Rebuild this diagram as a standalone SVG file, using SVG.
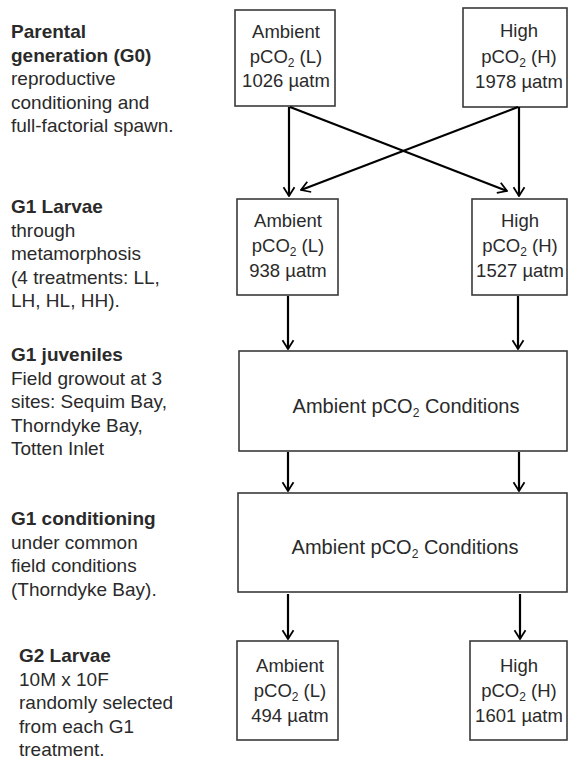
<svg xmlns="http://www.w3.org/2000/svg" width="568" height="762" viewBox="0 0 568 762">
<defs>
<style>
text{font-family:"Liberation Sans",Arial,sans-serif;font-size:18.5px;fill:#2a2a2a}
.l{font-size:19px}
.b{font-weight:bold}
.c{text-anchor:middle}
.big{font-size:20px}
.box{fill:#fff;stroke:#3a3a3a;stroke-width:1.6}
.con line{stroke:#000;stroke-width:2.2;marker-end:url(#ah)}
.s{font-size:12px}
</style>
<marker id="ah" viewBox="0 0 10 12" refX="9" refY="6" markerWidth="5" markerHeight="6" markerUnits="strokeWidth" orient="auto">
<path d="M1,1 L9,6 L1,11" fill="none" stroke="#000" stroke-width="1.6"/>
</marker>
</defs>
<rect width="568" height="762" fill="#fff"/>

<g id="labels" class="lab">
<text x="11" y="38" class="l b">Parental</text>
<text x="11" y="61.5" class="l b">generation (G0)</text>
<text x="11" y="85" class="l">reproductive</text>
<text x="11" y="108.5" class="l">conditioning and</text>
<text x="11" y="132" class="l">full-factorial spawn.</text>

<text x="11" y="213" class="l b">G1 Larvae</text>
<text x="11" y="236.5" class="l">through</text>
<text x="11" y="260" class="l">metamorphosis</text>
<text x="11" y="283.5" class="l">(4 treatments: LL,</text>
<text x="11" y="307" class="l">LH, HL, HH).</text>

<text x="11" y="361" class="l b">G1 juveniles</text>
<text x="11" y="384.5" class="l">Field growout at 3</text>
<text x="11" y="408" class="l">sites: Sequim Bay,</text>
<text x="11" y="431.5" class="l">Thorndyke Bay,</text>
<text x="11" y="455" class="l">Totten Inlet</text>

<text x="11" y="525" class="l b">G1 conditioning</text>
<text x="11" y="548.5" class="l">under common</text>
<text x="11" y="572" class="l">field conditions</text>
<text x="11" y="595.5" class="l">(Thorndyke Bay).</text>

<text x="19" y="662" class="l b">G2 Larvae</text>
<text x="19" y="685.5" class="l">10M x 10F</text>
<text x="19" y="709" class="l">randomly selected</text>
<text x="19" y="732.5" class="l">from each G1</text>
<text x="19" y="756" class="l">treatment.</text>
</g>

<g id="g0-ambient">
<rect class="box" x="235" y="10" width="100" height="96"/>
<text class="c" x="286" y="38">Ambient</text>
<text class="c" x="286" y="63">pCO<tspan class="s" dy="4">2</tspan><tspan dy="-4"> (L)</tspan></text>
<text class="c" x="286" y="87">1026 µatm</text>
</g>
<g id="g0-high">
<rect class="box" x="463" y="8" width="104" height="99"/>
<text class="c" x="519" y="37">High</text>
<text class="c" x="519" y="63">pCO<tspan class="s" dy="4">2</tspan><tspan dy="-4"> (H)</tspan></text>
<text class="c" x="519" y="88">1978 µatm</text>
</g>

<g id="g1-ambient">
<rect class="box" x="237" y="199" width="101" height="96"/>
<text class="c" x="288" y="227">Ambient</text>
<text class="c" x="288" y="252">pCO<tspan class="s" dy="4">2</tspan><tspan dy="-4"> (L)</tspan></text>
<text class="c" x="288" y="277">938 µatm</text>
</g>
<g id="g1-high">
<rect class="box" x="472" y="199" width="95" height="96"/>
<text class="c" x="520" y="227">High</text>
<text class="c" x="520" y="252">pCO<tspan class="s" dy="4">2</tspan><tspan dy="-4"> (H)</tspan></text>
<text class="c" x="520" y="277">1527 µatm</text>
</g>

<g id="juveniles">
<rect class="box" x="239" y="351" width="328" height="100"/>
<text class="c big" x="406" y="413">Ambient pCO<tspan class="s" dy="4">2</tspan><tspan dy="-4"> Conditions</tspan></text>
</g>

<g id="conditioning">
<rect class="box" x="238" y="493" width="329" height="99"/>
<text class="c big" x="405" y="554">Ambient pCO<tspan class="s" dy="4">2</tspan><tspan dy="-4"> Conditions</tspan></text>
</g>

<g id="g2-ambient">
<rect class="box" x="237" y="641" width="101" height="99"/>
<text class="c" x="290" y="672">Ambient</text>
<text class="c" x="290" y="697">pCO<tspan class="s" dy="4">2</tspan><tspan dy="-4"> (L)</tspan></text>
<text class="c" x="290" y="722">494 µatm</text>
</g>
<g id="g2-high">
<rect class="box" x="470" y="641" width="97" height="99"/>
<text class="c" x="519" y="672">High</text>
<text class="c" x="519" y="697">pCO<tspan class="s" dy="4">2</tspan><tspan dy="-4"> (H)</tspan></text>
<text class="c" x="519" y="722">1601 µatm</text>
</g>

<g id="connectors" class="con">
<line x1="289" y1="107" x2="289" y2="196"/>
<line x1="519" y1="107" x2="519" y2="196"/>
<line x1="290" y1="107" x2="507" y2="191"/>
<line x1="518" y1="107" x2="301" y2="190"/>
<line x1="288" y1="296" x2="288" y2="349"/>
<line x1="518" y1="296" x2="518" y2="349"/>
<line x1="288" y1="452" x2="288" y2="491"/>
<line x1="519" y1="452" x2="519" y2="491"/>
<line x1="288" y1="594" x2="288" y2="639"/>
<line x1="520" y1="594" x2="520" y2="639"/>
</g>
</svg>
